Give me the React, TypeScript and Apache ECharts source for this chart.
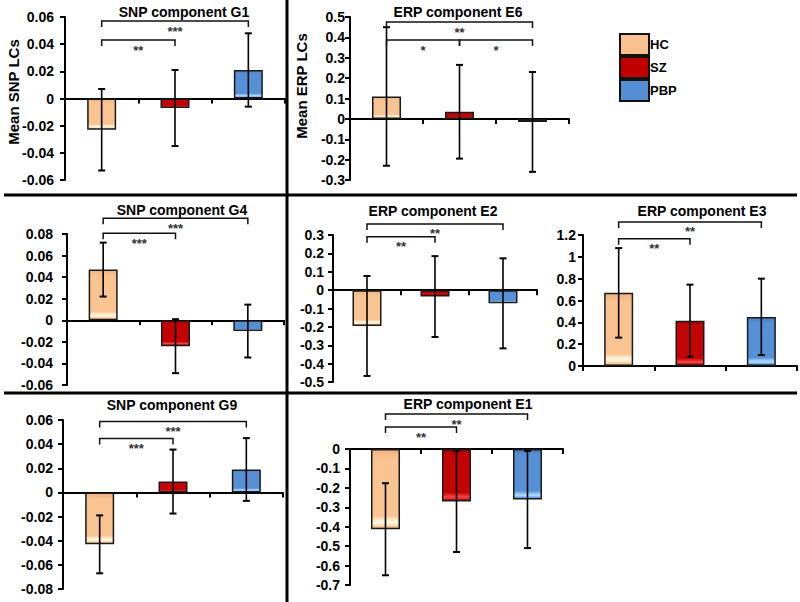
import React, { useEffect, useRef } from 'react';
import * as echarts from 'echarts';

const groups = ['HC', 'SZ', 'PBP'];

// SNP component G1
const g1Means = [-0.023, -0.007, 0.021];
const g1Errs = [0.030, 0.028, 0.027];
const g1Axis = [-0.06, 0.06, 0.02];
const g1Brackets: [number, number, number, string][] = [[0, 2, 0.057, '***'], [0, 1, 0.043, '**']];

// ERP component E6
const e6Means = [0.11, 0.035, -0.015];
const e6Errs = [0.34, 0.23, 0.245];
const e6Axis = [-0.3, 0.5, 0.1];
const e6Brackets: [number, number, number, string][] = [[0, 2, 0.475, '**'], [0, 1, 0.387, '*'], [1, 2, 0.387, '*']];

// SNP component G4
const g4Means = [0.047, -0.024, -0.010];
const g4Errs = [0.025, 0.025, 0.0245];
const g4Axis = [-0.06, 0.08, 0.02];
const g4Brackets: [number, number, number, string][] = [[0, 2, 0.0946, '***'], [0, 1, 0.0807, '***']];

// ERP component E2
const e2Means = [-0.195, -0.035, -0.072];
const e2Errs = [0.272, 0.22, 0.245];
const e2Axis = [-0.5, 0.3, 0.1];
const e2Brackets: [number, number, number, string][] = [[0, 2, 0.36, '**'], [0, 1, 0.29, '**']];

// ERP component E3
const e3Means = [0.67, 0.415, 0.45];
const e3Errs = [0.41, 0.33, 0.35];
const e3Axis = [0, 1.2, 0.2];
const e3Brackets: [number, number, number, string][] = [[0, 2, 1.32, '**'], [0, 1, 1.165, '**']];

// SNP component G9
const g9Means = [-0.043, 0.009, 0.019];
const g9Errs = [0.024, 0.0265, 0.026];
const g9Axis = [-0.08, 0.06, 0.02];
const g9Brackets: [number, number, number, string][] = [[0, 2, 0.0588, '***'], [0, 1, 0.0447, '***']];

// ERP component E1
const e1Means = [-0.413, -0.27, -0.26];
const e1Errs = [0.237, 0.26, 0.25];
const e1Axis = [-0.7, 0, 0.1];
const e1Brackets: [number, number, number, string][] = [[0, 2, 0.18, '**'], [0, 1, 0.113, '**']];

const FONT = 'Liberation Sans, Arial, sans-serif';

const panels = [
  { title: 'SNP component G1', means: g1Means, errs: g1Errs, axis: g1Axis, brackets: g1Brackets,
    grid: { left: 65, top: 17, width: 220, height: 163 }, margin: 11, titlePos: [184, 12] },
  { title: 'ERP component E6', means: e6Means, errs: e6Errs, axis: e6Axis, brackets: e6Brackets,
    grid: { left: 350, top: 17, width: 219, height: 163 }, margin: 5, titlePos: [458, 12] },
  { title: 'SNP component G4', means: g4Means, errs: g4Errs, axis: g4Axis, brackets: g4Brackets,
    grid: { left: 67, top: 234, width: 217, height: 151 }, margin: 14, titlePos: [182, 210] },
  { title: 'ERP component E2', means: e2Means, errs: e2Errs, axis: e2Axis, brackets: e2Brackets,
    grid: { left: 333, top: 235, width: 204, height: 147 }, margin: 9, titlePos: [433, 211] },
  { title: 'ERP component E3', means: e3Means, errs: e3Errs, axis: e3Axis, brackets: e3Brackets,
    grid: { left: 583, top: 235, width: 214, height: 131 }, margin: 7, titlePos: [702, 211] },
  { title: 'SNP component G9', means: g9Means, errs: g9Errs, axis: g9Axis, brackets: g9Brackets,
    grid: { left: 63, top: 420, width: 220, height: 169 }, margin: 10, titlePos: [172, 405] },
  { title: 'ERP component E1', means: e1Means, errs: e1Errs, axis: e1Axis, brackets: e1Brackets,
    grid: { left: 350, top: 449, width: 213, height: 136 }, margin: 10, titlePos: [468, 404] },
];

const flatColors = ['#FAC090', '#C00000', '#558ED5'];
const gradStops = [
  [['#F1B27E', 0], ['#F9C392', 0.12], ['#F9C392', 0.84], ['#FFEBC8', 0.89], ['#FFF8E4', 0.93], ['#F9CA98', 0.975], ['#E2A26E', 1]],
  [['#B00000', 0], ['#C40404', 0.12], ['#C40404', 0.84], ['#E42828', 0.89], ['#F24A4A', 0.93], ['#CC1010', 0.975], ['#980000', 1]],
  [['#4A80C4', 0], ['#5890D6', 0.12], ['#5890D6', 0.84], ['#8EC2F2', 0.89], ['#B4DEFF', 0.93], ['#68A2E0', 0.975], ['#4274B6', 1]],
];

export default function App() {
  const ref = useRef<HTMLDivElement>(null);
  useEffect(() => {
    if (!ref.current) return;
    const chart = echarts.init(ref.current, null, { renderer: 'svg' });

    const grids: any[] = [];
    const xAxes: any[] = [];
    const yAxes: any[] = [];
    const series: any[] = [];
    const graphics: any[] = [];

    panels.forEach((p, i) => {
      grids.push({ ...p.grid, containLabel: false });
      xAxes.push({
        type: 'category', gridIndex: i, data: groups,
        axisLabel: { show: false },
        axisTick: { show: true, length: 5, lineStyle: { color: '#000', width: 2 } },
        axisLine: { show: true, onZero: true, lineStyle: { color: '#000', width: 2 } },
        splitLine: { show: false },
      });
      yAxes.push({
        type: 'value', gridIndex: i, min: p.axis[0], max: p.axis[1], interval: p.axis[2],
        axisLine: { show: true, lineStyle: { color: '#000', width: 2 } },
        axisTick: { show: true, length: 5, lineStyle: { color: '#000', width: 2 } },
        splitLine: { show: false },
        axisLabel: { color: '#000', fontSize: 14, fontWeight: 'bold', fontFamily: FONT, margin: p.margin },
      });
      groups.forEach((g, gi) => {
        series.push({
          type: 'bar', name: g, xAxisIndex: i, yAxisIndex: i,
          data: p.means.map((m, j) => (j === gi ? m : '-')),
          barWidth: 29, barGap: '-100%',
          itemStyle: {
            color: new echarts.graphic.LinearGradient(0, 0, 0, 1,
              gradStops[gi].map((s) => ({ offset: s[1] as number, color: s[0] as string }))),
            borderColor: '#1a1a1a', borderWidth: 1.5,
          },
          z: 2,
        });
      });
      series.push({
        type: 'custom', xAxisIndex: i, yAxisIndex: i, z: 5, clip: false,
        data: p.means.map((m, j) => [j, m, p.errs[j]]),
        encode: { x: 0, y: 1 },
        renderItem: (params: any, api: any) => {
          const x = api.value(0), m = api.value(1), e = api.value(2);
          const top = api.coord([x, m + e]);
          const bot = api.coord([x, m - e]);
          const cw = 3.5;
          const st = { stroke: '#000', lineWidth: 1.6 };
          return {
            type: 'group', children: [
              { type: 'line', shape: { x1: top[0], y1: top[1], x2: bot[0], y2: bot[1] }, style: st },
              { type: 'line', shape: { x1: top[0] - cw, y1: top[1], x2: top[0] + cw, y2: top[1] }, style: { stroke: '#000', lineWidth: 2 } },
              { type: 'line', shape: { x1: bot[0] - cw, y1: bot[1], x2: bot[0] + cw, y2: bot[1] }, style: { stroke: '#000', lineWidth: 2 } },
            ],
          };
        },
      });
      const labels = p.brackets.map((b) => b[3]);
      series.push({
        type: 'custom', xAxisIndex: i, yAxisIndex: i, z: 6, clip: false,
        data: p.brackets.map((b) => [b[0], b[2], b[1]]),
        encode: { x: 0, y: 1 },
        renderItem: (params: any, api: any) => {
          const a = api.coord([api.value(0), api.value(1)]);
          const b = api.coord([api.value(2), api.value(1)]);
          const d = 6;
          return {
            type: 'group', children: [
              { type: 'polyline', shape: { points: [[a[0], a[1] + d], [a[0], a[1]], [b[0], b[1]], [b[0], b[1] + d]] },
                style: { stroke: '#111', lineWidth: 1.5, fill: null } },
              { type: 'text', x: (a[0] + b[0]) / 2, y: a[1] + 10,
                style: { text: labels[params.dataIndex], fill: '#333', font: `bold 13px ${FONT}`, align: 'center', verticalAlign: 'middle' } },
            ],
          };
        },
      });
      graphics.push({
        type: 'text', x: p.titlePos[0], y: p.titlePos[1],
        style: { text: p.title, fill: '#000', font: `bold 14px ${FONT}`, align: 'center', verticalAlign: 'middle' },
      });
    });

    // axis names
    graphics.push({ type: 'text', x: 13, y: 92, rotation: Math.PI / 2,
      style: { text: 'Mean SNP LCs', fill: '#000', font: `bold 15px ${FONT}`, align: 'center', verticalAlign: 'middle' } });
    graphics.push({ type: 'text', x: 301, y: 86, rotation: Math.PI / 2,
      style: { text: 'Mean ERP LCs', fill: '#000', font: `bold 15px ${FONT}`, align: 'center', verticalAlign: 'middle' } });

    // dividers
    const div = { stroke: '#000', lineWidth: 3 };
    graphics.push({ type: 'line', shape: { x1: 287, y1: 0, x2: 287, y2: 602 }, style: div, z: 10 });
    graphics.push({ type: 'line', shape: { x1: 4, y1: 195, x2: 797, y2: 195 }, style: div, z: 10 });
    graphics.push({ type: 'line', shape: { x1: 4, y1: 393, x2: 797, y2: 393 }, style: div, z: 10 });

    chart.setOption({
      animation: false,
      backgroundColor: '#fff',
      grid: grids,
      xAxis: xAxes,
      yAxis: yAxes,
      series,
      graphic: graphics,
      legend: {
        orient: 'vertical', left: 619, top: 33, padding: 0, itemWidth: 29, itemHeight: 21, itemGap: 0,
        icon: 'rect', selectedMode: false,
        textStyle: { color: '#000', fontSize: 13, fontWeight: 'bold', fontFamily: FONT, padding: [0, 0, 0, -4] },
        data: groups.map((g, gi) => ({ name: g, itemStyle: { color: flatColors[gi], borderColor: '#111', borderWidth: 2 } })),
      },
    });
    return () => chart.dispose();
  }, []);
  return <div ref={ref} style={{ position: 'fixed', left: 0, top: 0, width: 800, height: 602 }} />;
}
